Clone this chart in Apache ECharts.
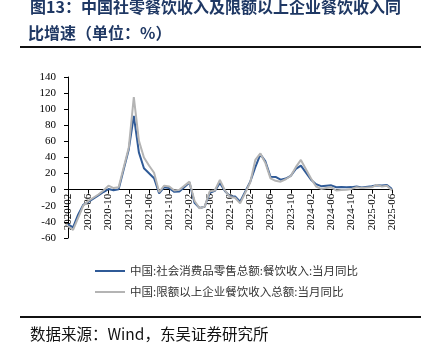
<!DOCTYPE html>
<html>
<head>
<meta charset="utf-8">
<script src="https://cdn.jsdelivr.net/npm/echarts@6/dist/echarts.min.js"></script>
<style>html,body{margin:0;padding:0;background:#fff;}#c{width:432px;height:355px;}</style>
</head>
<body>
<div id="c"></div>
<script>
// Monthly categories 2020-02 .. 2025-06 (January values not published -> null)
var categories = [
 '2020-02','2020-03','2020-04','2020-05','2020-06','2020-07','2020-08','2020-09','2020-10','2020-11','2020-12',
 '2021-01','2021-02','2021-03','2021-04','2021-05','2021-06','2021-07','2021-08','2021-09','2021-10','2021-11','2021-12',
 '2022-01','2022-02','2022-03','2022-04','2022-05','2022-06','2022-07','2022-08','2022-09','2022-10','2022-11','2022-12',
 '2023-01','2023-02','2023-03','2023-04','2023-05','2023-06','2023-07','2023-08','2023-09','2023-10','2023-11','2023-12',
 '2024-01','2024-02','2024-03','2024-04','2024-05','2024-06','2024-07','2024-08','2024-09','2024-10','2024-11','2024-12',
 '2025-01','2025-02','2025-03','2025-04','2025-05','2025-06'
];
var seriesNames = ['中国:社会消费品零售总额:餐饮收入:当月同比', '中国:限额以上企业餐饮收入总额:当月同比'];
var retailCatering = [
 -43.1,-46.8,-31.1,-18.9,-15.2,-11.0,-7.0,-2.9,0.8,-0.6,0.4,
 null,50,91.6,46.4,26.6,20.5,14.3,-4.5,3.1,2.0,-2.7,-2.2,
 null,8.9,-16.4,-22.7,-21.1,-4.0,-1.5,8.4,-1.7,-8.1,-8.4,-15,
 null,10,28,44,35.1,16.1,15.8,12.4,13.8,17.1,25.8,30.0,
 null,12.5,6.9,4.4,5.0,5.4,3.0,3.3,3.1,3.2,4.0,2.7,
 null,4.3,5.6,5.2,5.9,0.9
];
var aboveQuotaCatering = [
 -45,-50,-35,-20,-14,-10,-6,-1,5,2,3,
 null,52,115,61,40,30,21,-3,5,4,-1,0,
 null,10,-14,-23,-21,-2,-1,12,-1,-9,-10,-17,
 null,9,37,45,33,14,11,10,13,17,28,37,
 null,14,4,1,2,3,-1,-0.5,0,1,3,2,
 null,3,6,4,5,-1
];
var yTicks = {min:-60, max:140, interval:20};
var titleLines = ['图13：中国社零餐饮收入及限额以上企业餐饮收入同', '比增速（单位：%）'];
var sourceText = '数据来源：Wind，东吴证券研究所';

var chart = echarts.init(document.getElementById('c'), null, {renderer:'canvas'});
var serif = '"Liberation Serif","Times New Roman",serif';
var cjk = '"Noto Sans CJK SC","Noto Sans",sans-serif';
var gridTop = 77, gridBottom = 117, gridH = 355 - gridTop - gridBottom;
var zeroOffset = -gridH * (0 - yTicks.min) / (yTicks.max - yTicks.min);
chart.setOption({
  animation:false,
  backgroundColor:'#fff',
  grid:{left:68, right:40, top:gridTop, bottom:gridBottom, containLabel:false},
  legend:{
    orient:'vertical', left:90, top:259, itemWidth:30, itemHeight:2, itemGap:7,
    icon:'rect',
    textStyle:{fontSize:11.5, lineHeight:14, fontFamily:cjk, color:'#333'},
    data:seriesNames
  },
  xAxis:{
    type:'category', data:categories, boundaryGap:false,
    offset:zeroOffset,
    axisLine:{onZero:false, lineStyle:{color:'#000', width:1}},
    axisTick:{show:true, interval:3, length:4, lineStyle:{color:'#000'}},
    axisLabel:{interval:3, rotate:90, margin:4, fontSize:11, fontFamily:serif, color:'#000'},
    splitLine:{show:false}
  },
  yAxis:{
    type:'value', min:yTicks.min, max:yTicks.max, interval:yTicks.interval,
    axisLine:{show:true, lineStyle:{color:'#000', width:1}},
    axisTick:{show:true, length:4, lineStyle:{color:'#000'}},
    axisLabel:{margin:12, fontSize:11, fontFamily:serif, color:'#000'},
    splitLine:{show:false}
  },
  series:[
    {name:seriesNames[0], type:'line', data:retailCatering, connectNulls:true, symbol:'none',
     lineStyle:{color:'#2f5a97', width:2}, itemStyle:{color:'#2f5a97'}},
    {name:seriesNames[1], type:'line', data:aboveQuotaCatering, connectNulls:true, symbol:'none',
     lineStyle:{color:'#b4b4b4', width:2}, itemStyle:{color:'#b4b4b4'}}
  ],
  graphic:[
    {type:'text', x:30, y:6.5, style:{text:titleLines[0], font:'bold 16px '+cjk, fill:'#1f3864', verticalAlign:'middle'}},
    {type:'text', x:28, y:32.5, style:{text:titleLines[1], font:'bold 16px '+cjk, fill:'#1f3864', verticalAlign:'middle'}},
    {type:'rect', shape:{x:20, y:46, width:401, height:2}, style:{fill:'#111'}},
    {type:'rect', shape:{x:20, y:316, width:401, height:2}, style:{fill:'#111'}},
    {type:'text', x:30, y:334, style:{text:sourceText, font:'15.5px '+cjk, fill:'#111', verticalAlign:'middle'}}
  ]
});
</script>
</body>
</html>
